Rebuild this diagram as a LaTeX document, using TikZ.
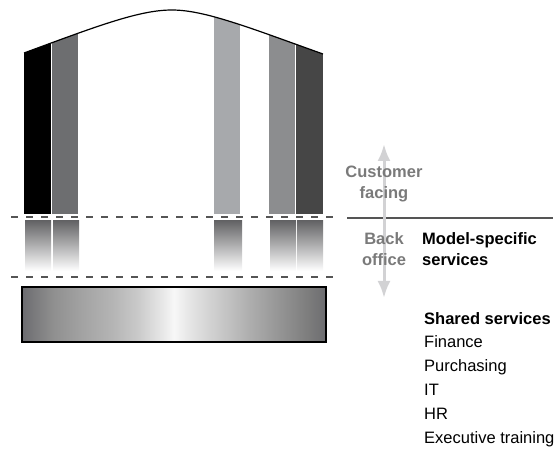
\documentclass[tikz,border=0pt]{standalone}
\usepackage{fontspec}
\setmainfont{Liberation Sans}
\usetikzlibrary{arrows.meta}

\definecolor{barA}{HTML}{000000}
\definecolor{barB}{HTML}{6D6E70}
\definecolor{barC}{HTML}{A7A9AC}
\definecolor{barD}{HTML}{8C8D8F}
\definecolor{barE}{HTML}{464646}
\definecolor{fadetop}{HTML}{646466}
\definecolor{dashgray}{HTML}{555555}
\definecolor{arrowgray}{HTML}{D2D2D4}
\definecolor{labelgray}{HTML}{7A7A7A}
\definecolor{boxedge}{HTML}{6C6C70}

\pgfdeclarehorizontalshading{sharedshade}{100bp}{
  color(0bp)=(boxedge); color(25bp)=(boxedge);
  color(30bp)=(black!44!white); color(35bp)=(black!36!white);
  color(40bp)=(black!29!white); color(44bp)=(black!21!white);
  color(48.5bp)=(black!8!white); color(50bp)=(black!3!white);
  color(52.5bp)=(black!10!white); color(57.5bp)=(black!21!white);
  color(62.5bp)=(black!32!white); color(67.5bp)=(black!42!white);
  color(72.5bp)=(black!52!white); color(75bp)=(boxedge);
  color(100bp)=(boxedge)}

\tikzset{
  dashline/.style={dashgray, line width=1.3pt, dash pattern=on 7pt off 8pt},
  fadebar/.style={top color=fadetop, bottom color=white},
  sidelabel/.style={labelgray, font=\bfseries\fontsize{16.5}{21.5}\selectfont, align=center, inner sep=0pt},
  blacklabel/.style={font=\bfseries\fontsize{16.5}{21.5}\selectfont, align=left, inner sep=0pt},
}

\begin{document}
\begin{tikzpicture}[x=1pt, y=-1pt]
    \useasboundingbox (0,0) rectangle (560,454);

    % Customer-facing bars under the arch
    \begin{scope}
        \clip (24,53) .. controls (100,25) and (140,10) .. (172,10)
            .. controls (205,10) and (250,28) .. (323,54)
            -- (323,214) -- (24,214) -- cycle;
        \fill[barA] (24,0) rectangle (51,214);
        \fill[barB] (52,0) rectangle (78,214);
        \fill[barC] (214,0) rectangle (240,214);
        \fill[barD] (269,0) rectangle (295,214);
        \fill[barE] (296,0) rectangle (323,214);
    \end{scope}

    % The arch
    \draw[line width=1.2pt] (24,53) .. controls (100,25) and (140,10) .. (172,10)
        .. controls (205,10) and (250,28) .. (323,54);

    % Separators
    \draw[dashline] (11,217) -- (333,217);
    \draw[dashgray, line width=1.3pt] (347,218) -- (553,218);
    \draw[dashline] (11,277) -- (333,277);

    % Back-office bars (fading)
    \shade[fadebar] (25,221) rectangle (51,271);
    \shade[fadebar] (53,221) rectangle (79,271);
    \shade[fadebar] (214,221) rectangle (242,271);
    \shade[fadebar] (270,221) rectangle (296,271);
    \shade[fadebar] (297,221) rectangle (323,271);

    % Shared services block
    \shade[shading=sharedshade] (22,287) rectangle (326,342);
    \draw[line width=1.3pt] (22,287) rectangle (326,342);

    % Customer / back office arrow
    \coordinate (arrtop) at (384,144);
    \coordinate (arrbot) at (384,298);
    \draw[arrowgray, line width=3pt, {Latex[length=17pt,width=13pt]}-{Latex[length=17pt,width=13pt]}] (arrbot) -- (arrtop);

    % Labels
    \node[sidelabel, anchor=center] (custfacing) at (384,184) {Customer\\facing};
    \node[sidelabel, anchor=center] (backoffice) at (384,249) {Back\\office};
    \node[blacklabel, anchor=west] (modelspec) at (422,249) {Model-specific\\services};
    \node[anchor=north west, inner sep=0pt, align=left, font=\fontsize{16.5}{23.8}\selectfont] (shared) at (424,312)
        {\textbf{Shared services}\\Finance\\Purchasing\\IT\\HR\\Executive training};
\end{tikzpicture}
\end{document}
